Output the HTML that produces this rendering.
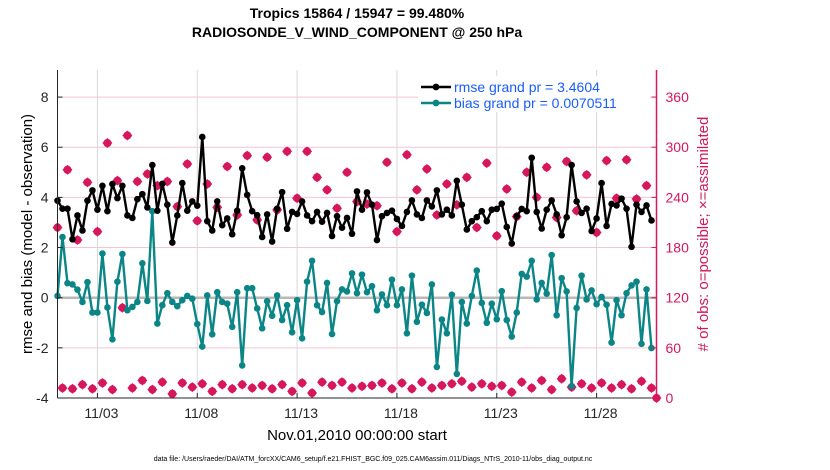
<!DOCTYPE html>
<html><head><meta charset="utf-8">
<style>
body{margin:0;background:#fff;width:830px;height:470px;overflow:hidden;font-family:"Liberation Sans",sans-serif}
svg{display:block}
</style></head>
<body>
<svg id="chart" width="830" height="470" viewBox="0 0 830 470">
<text x="357" y="18" text-anchor="middle" font-size="14" font-weight="bold">Tropics 15864 / 15947 = 99.480%</text>
<text x="357" y="37" text-anchor="middle" font-size="14" font-weight="bold">RADIOSONDE_V_WIND_COMPONENT @ 250 hPa</text>
<text x="357" y="440" text-anchor="middle" font-size="15">Nov.01,2010 00:00:00 start</text>
<text transform="translate(32,234) rotate(-90)" text-anchor="middle" font-size="15">rmse and bias (model - observation)</text>
<text transform="translate(708,234) rotate(-90)" text-anchor="middle" font-size="15" fill="#d0185a"># of obs: o=possible; ×=assimilated</text>
<text x="373" y="461" text-anchor="middle" font-size="7">data file: /Users/raeder/DAI/ATM_forcXX/CAM6_setup/f.e21.FHIST_BGC.f09_025.CAM6assim.011/Diags_NTrS_2010-11/obs_diag_output.nc</text>
<g id="grid"></g><g id="marks"></g><g id="axes"></g>
<g>
<rect x="418" y="76" width="232" height="36" fill="#fff"/>
<line x1="421" y1="87" x2="451" y2="87" stroke="#000" stroke-width="2.4"/>
<circle cx="436" cy="87" r="3.4" fill="#000"/>
<text x="454" y="92" font-size="14" fill="#1a5cff">rmse grand pr = 3.4604</text>
<line x1="421" y1="103" x2="451" y2="103" stroke="#0b8585" stroke-width="2.4"/>
<circle cx="436" cy="103" r="3.4" fill="#0b8585"/>
<text x="454" y="108" font-size="14" fill="#1a5cff">bias grand pr = 0.0070511</text>
</g>
</svg>
<script>
const xTickLabels=["11/03","11/08","11/13","11/18","11/23","11/28"];
const xTickDays=[2,7,12,17,22,27];
const yTicksLeft=[-4,-2,0,2,4,6,8];
const yTicksRight=[0,60,120,180,240,300,360];
const rmse=[3.87,3.55,3.55,2.33,3.28,2.68,3.87,4.28,3.51,4.46,3.45,4.53,3.97,4.46,3.28,3.18,3.93,4.13,3.6,5.29,3.47,4.54,3.71,2.2,3.28,4.57,3.47,3.84,3.67,6.41,3.05,
2.68,3.84,2.89,3.16,2.53,3.47,5.16,4.1,3.45,3.29,2.42,3.32,2.24,3.55,4.21,2.75,3.42,3.34,3.84,3.28,3.05,3.42,3.03,3.38,2.46,3.25,2.79,3.18,2.55,4.24,
3.51,4.2,3.71,2.3,3.25,3.38,3.47,3.14,2.86,3.42,3.88,3.32,3.18,3.88,3.64,4.28,3.32,3.51,3.28,4.66,3.71,2.72,3.05,3.21,3.45,3.05,3.51,3.54,3.75,2.82,2.16,
3.25,3.54,3.45,5.58,3.42,2.76,3.51,3.88,3.32,2.49,3.21,5.29,3.84,3.38,3.55,2.66,3.16,4.57,2.86,3.74,3.68,3.95,3.55,2.03,3.71,3.42,3.68,3.08];
const bias=[0.07,2.42,0.58,0.53,0.32,-0.17,0.62,-0.59,-0.59,1.76,-0.39,-1.66,0.64,1.74,-0.5,-0.37,-0.17,1.37,-0.13,3.45,-1.03,-0.3,0.18,-0.17,-0.34,-0.1,0.07,-0.04,-1.05,-1.95,0.09,
-1.46,0.22,-0.17,-0.24,-1.16,0.22,-2.7,0.38,0.38,-0.43,-1.22,-0.14,-0.72,0.09,-0.89,-0.3,-1.38,-0.1,-1.62,0.64,1.47,-0.3,-0.57,0.59,-1.45,-0.14,0.33,0.25,0.97,0.18,
0.92,0.22,0.46,-0.5,0.13,-0.3,0.72,-0.3,0.33,-1.42,0.88,-0.96,-0.28,-0.61,0.53,-2.76,-0.87,-1.42,0.12,-3.04,-0.17,-1.03,0.07,1.08,-0.21,-1.0,-0.24,-0.86,0.26,-0.89,-1.55,
-0.59,0.95,0.84,1.47,-0.07,0.59,0.16,1.7,-0.7,0.78,0.25,-3.53,-0.41,0.88,-0.07,0.29,-0.26,0.03,-0.28,-1.79,-0.1,-0.7,0.18,0.49,0.64,-1.84,0.33,-2.01];
const nobs=[204,12,273,11,189,16,258,11,199,18,305,10,260,108,314,12,259,21,268,10,254,19,259,5,229,18,280,13,212,17,256,
8,228,16,277,11,219,16,290,12,213,15,288,11,225,16,295,8,239,18,295,6,264,19,249,15,227,19,270,12,235,
14,232,15,230,18,282,11,199,18,291,11,249,19,274,12,219,15,256,17,231,20,264,13,204,17,281,14,194,15,250,
7,217,19,270,12,240,21,276,10,216,23,283,13,224,17,267,12,198,18,284,12,239,16,285,11,238,20,254,12,0];
const NS="http://www.w3.org/2000/svg";
const X0=57.5,X1=656.5,Y0=398,Y1=72;
const xS=d=>X0+d/30*(X1-X0);
const yL=v=>Y0-(v+4)/13*(Y0-Y1);
const yR=n=>yL(n/30-4);
const tDay=i=>i*0.25;
function mk(tag,at,parent){const e=document.createElementNS(NS,tag);for(const k in at)e.setAttribute(k,at[k]);parent.appendChild(e);return e;}
const grid=document.getElementById('grid'),marks=document.getElementById('marks'),axes=document.getElementById('axes');
mk('rect',{x:X0,y:Y1-2,width:X1-X0,height:Y0-Y1+2,fill:'#fff'},grid);
yTicksLeft.forEach(v=>{if(v===-4)return;const l=mk('line',{x1:X0,x2:X1,y1:yL(v),y2:yL(v),stroke:'#f2c6d6','stroke-width':1},grid);

});
xTickDays.forEach(d=>{const l=mk('line',{x1:xS(d),x2:xS(d),y1:Y1-2,y2:Y0,stroke:'#d8d8d8','stroke-width':1},grid);

});
const z=mk('line',{x1:X0,x2:X1,y1:yL(0),y2:yL(0),stroke:'#b8b8b8','stroke-width':2.5},grid);


nobs.forEach((n,i)=>{const cx=xS(tDay(i)),cy=yR(n);
const g=mk('g',{},marks);


mk('circle',{cx:cx,cy:cy,r:3.4,fill:'none',stroke:'#d6175c','stroke-width':1.4},g);
mk('path',{d:`M${cx-5} ${cy}L${cx} ${cy-5}L${cx+5} ${cy}L${cx} ${cy+5}Z`,fill:'#d6175c'},g);});
function series(vals,color,name){
const pts=vals.map((v,i)=>xS(tDay(i)).toFixed(1)+','+yL(v).toFixed(1)).join(' ');
const p=mk('polyline',{points:pts,fill:'none',stroke:color,'stroke-width':2.4,'stroke-linejoin':'round'},marks);


vals.forEach((v,i)=>{const c=mk('circle',{cx:xS(tDay(i)),cy:yL(v),r:3.3,fill:color},marks);

});}
series(bias,'#0b8585','bias');
series(rmse,'#000000','rmse');
const la=mk('line',{x1:X0,x2:X0,y1:Y1-2,y2:Y0,stroke:'#262626','stroke-width':1},axes);


const ba=mk('line',{x1:X0,x2:X1,y1:Y0,y2:Y0,stroke:'#262626','stroke-width':1},axes);


const ra=mk('line',{x1:X1,x2:X1,y1:Y1-2,y2:Y0,stroke:'#d6175c','stroke-width':1.5},axes);


yTicksLeft.forEach(v=>{mk('line',{x1:X0,x2:X0+5,y1:yL(v),y2:yL(v),stroke:'#262626'},axes);
const t=mk('text',{x:X0-9,y:yL(v)+5,'text-anchor':'end','font-size':14,fill:'#262626'},axes);t.textContent=v;

});
yTicksRight.forEach(n=>{mk('line',{x1:X1-5,x2:X1,y1:yR(n),y2:yR(n),stroke:'#d6175c'},axes);
const t=mk('text',{x:X1+9,y:yR(n)+5,'font-size':14,fill:'#d6175c'},axes);t.textContent=n;

});
xTickDays.forEach((d,i)=>{mk('line',{x1:xS(d),x2:xS(d),y1:Y0,y2:Y0-5,stroke:'#262626'},axes);
const t=mk('text',{x:xS(d)+4,y:Y0+20,'text-anchor':'middle','font-size':14,fill:'#262626'},axes);t.textContent=xTickLabels[i];

});
</script>
</body></html>
